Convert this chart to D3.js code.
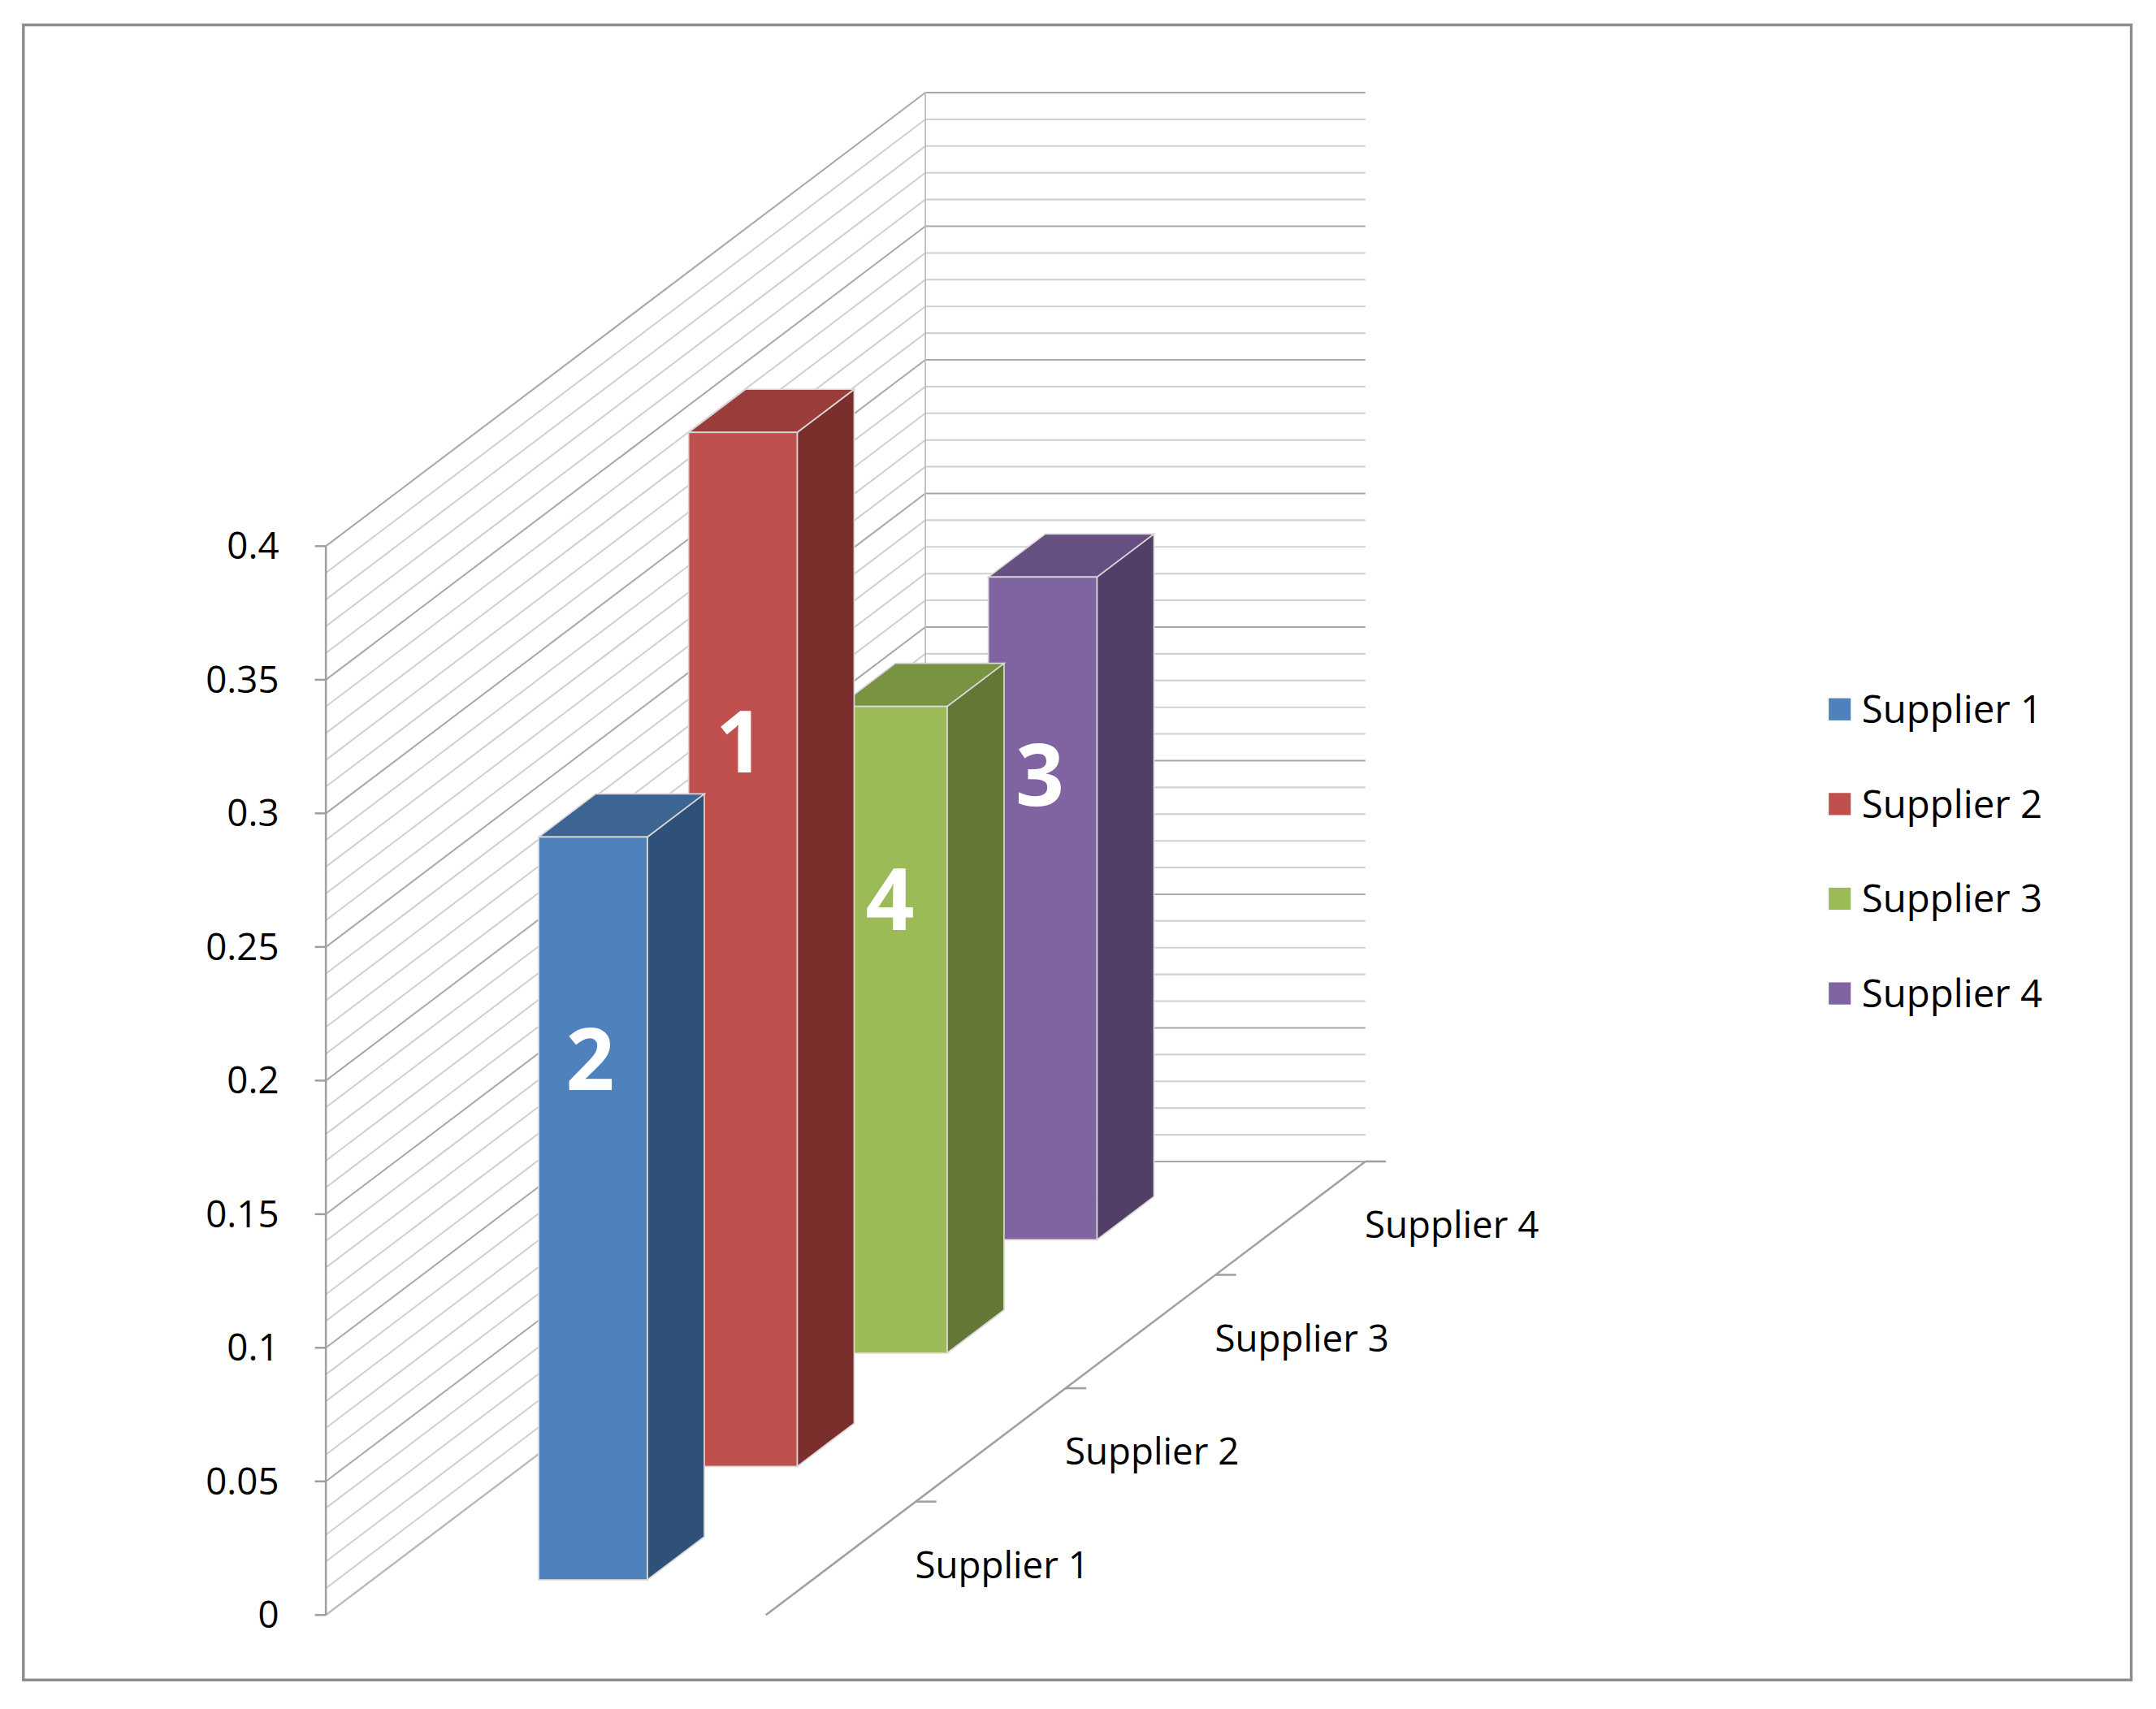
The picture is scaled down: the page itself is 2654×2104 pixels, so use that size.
<!DOCTYPE html>
<html>
<head>
<meta charset="utf-8">
<script src="https://cdn.jsdelivr.net/npm/d3@7"></script>
<style>
  html, body { margin: 0; padding: 0; background: #fff; }
  svg { display: block; }
  text { font-family: "Open Sans", "Liberation Sans", sans-serif; fill: #000; }
</style>
</head>
<body>
<script>
// chart values
var categories = ["Supplier 1", "Supplier 2", "Supplier 3", "Supplier 4"];
var values = [0.278, 0.387, 0.242, 0.248];
var dataLabels = ["2", "1", "4", "3"];
var yTicks = [0, 0.05, 0.1, 0.15, 0.2, 0.25, 0.3, 0.35, 0.4];
var colors = [
  {face: "#4F81BD", side: "#2F5179", top: "#3C6592"},
  {face: "#C0504D", side: "#7A2F2D", top: "#9A3D3A"},
  {face: "#9BBB59", side: "#637836", top: "#789442"},
  {face: "#8064A2", side: "#513F67", top: "#655081"}
];

var W = 1568, H = 1236;
var svg = d3.select("body").append("svg")
  .attr("width", 2654).attr("height", 2104)
  .attr("viewBox", "0 0 " + W + " " + H)
  .attr("preserveAspectRatio", "none");

// frame
svg.append("rect").attr("x", 17).attr("y", 18).attr("width", 1533).attr("height", 1197)
  .attr("fill", "#fff").attr("stroke", "#8c8c8c").attr("stroke-width", 2);

var y = d3.scaleLinear().domain([0, 0.4]).range([1168, 395]);
var axisX = 237, wallRight = 993;
var DX = 436, DY = -328;           // offset for full depth
var depth = d3.scaleBand().domain(categories).range([0, 1]);
function px(x, d) { return x + DX * d; }
function py(yy, d) { return yy + DY * d; }

// gridlines: minor every 0.01, major every 0.05
var grid = d3.range(0, 0.4001, 0.01);
var g = svg.append("g");
grid.forEach(function (v, i) {
  var major = i % 5 === 0;
  var col = major ? "#a8a8a8" : "#d0d0d0";
  // side wall
  g.append("line").attr("x1", axisX).attr("y1", y(v))
    .attr("x2", px(axisX, 1)).attr("y2", py(y(v), 1))
    .attr("stroke", col).attr("stroke-width", 1.2);
  // back wall
  g.append("line").attr("x1", px(axisX, 1)).attr("y1", py(y(v), 1))
    .attr("x2", wallRight).attr("y2", py(y(v), 1))
    .attr("stroke", col).attr("stroke-width", 1.2);
});
// wall edges
g.append("line").attr("x1", px(axisX, 1)).attr("y1", py(y(0), 1))
  .attr("x2", px(axisX, 1)).attr("y2", py(y(0.4), 1)).attr("stroke", "#bbb");
g.append("line").attr("x1", axisX).attr("y1", y(0))
  .attr("x2", px(axisX, 1)).attr("y2", py(y(0), 1)).attr("stroke", "#bbb");

// value axis
var ay = svg.append("g");
ay.append("line").attr("x1", axisX).attr("x2", axisX).attr("y1", y(0)).attr("y2", y(0.4))
  .attr("stroke", "#a0a0a0").attr("stroke-width", 1.5);
yTicks.forEach(function (t) {
  ay.append("line").attr("x1", axisX - 8).attr("x2", axisX).attr("y1", y(t)).attr("y2", y(t))
    .attr("stroke", "#a0a0a0").attr("stroke-width", 1.5);
  ay.append("text").attr("x", 203).attr("y", y(t)).attr("dy", "0.35em")
    .attr("text-anchor", "end").style("font-size", "27px").text(t);
});

// depth axis
var frontX = 557;
var ad = svg.append("g");
ad.append("line").attr("x1", frontX).attr("y1", y(0))
  .attr("x2", px(frontX, 1)).attr("y2", py(y(0), 1))
  .attr("stroke", "#a0a0a0").attr("stroke-width", 1.5);
categories.forEach(function (c, i) {
  var d1 = depth(c) + depth.bandwidth();
  ad.append("line").attr("x1", px(frontX, d1)).attr("y1", py(y(0), d1))
    .attr("x2", px(frontX, d1) + 15).attr("y2", py(y(0), d1))
    .attr("stroke", "#a0a0a0").attr("stroke-width", 1.5);
  var dm = depth(c) + depth.bandwidth() / 2;
  ad.append("text").attr("x", px(frontX, dm) + 54).attr("y", py(y(0), dm) + 5)
    .attr("dy", "0.35em").style("font-size", "27px").text(c);
});

// bars, drawn back to front
var barX = 358, barW = 79, barDepth = 0.095;
var idx = d3.range(categories.length).reverse();
var bars = svg.append("g");
idx.forEach(function (i) {
  var c = categories[i], v = values[i], col = colors[i];
  var d0 = depth(c) + depth.bandwidth() / 2 - barDepth / 2, d1 = d0 + barDepth;
  var x0 = px(barX, d0), x1 = x0 + barW;
  var yb = py(y(0), d0), yt = py(y(v), d0);
  var ox = DX * barDepth, oy = DY * barDepth;
  bars.append("polygon")
    .attr("points", [[x1, yt], [x1 + ox, yt + oy], [x1 + ox, yb + oy], [x1, yb]].join(" "))
    .attr("fill", col.side).attr("stroke", "#d8d8d8").attr("stroke-width", 1);
  bars.append("polygon")
    .attr("points", [[x0, yt], [x0 + ox, yt + oy], [x1 + ox, yt + oy], [x1, yt]].join(" "))
    .attr("fill", col.top).attr("stroke", "#d8d8d8").attr("stroke-width", 1);
  bars.append("rect").attr("x", x0).attr("y", yt).attr("width", barW).attr("height", yb - yt)
    .attr("fill", col.face).attr("stroke", "#d8d8d8").attr("stroke-width", 1);
  bars.append("text").attr("x", x0 + barW / 2 - 2).attr("y", yt + (yb - yt) * 0.3)
    .attr("dy", "0.35em").attr("text-anchor", "middle")
    .style("font-size", "62px").style("font-weight", "bold").style("fill", "#fff")
    .text(dataLabels[i]);
});

// legend
var lg = svg.append("g");
categories.forEach(function (c, i) {
  var ly = 513 + i * 68.5;
  lg.append("rect").attr("x", 1330).attr("y", ly - 8).attr("width", 16).attr("height", 16)
    .attr("fill", colors[i].face);
  lg.append("text").attr("x", 1354).attr("y", ly).attr("dy", "0.35em")
    .style("font-size", "28px").text(c);
});
</script>
</body>
</html>
